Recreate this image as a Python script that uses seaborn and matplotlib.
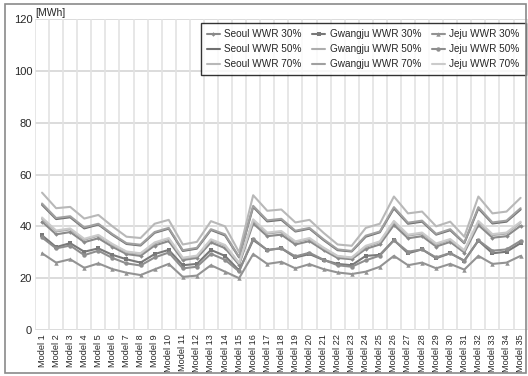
import matplotlib
matplotlib.use("Agg")
import matplotlib.pyplot as plt
import seaborn as sns
import pandas as pd
from matplotlib.patches import Rectangle

sns.set_theme(style="white")
plt.rcParams["font.family"] = ["Liberation Sans", "DejaVu Sans"]

models = [f"Model {i}" for i in range(1, 36)]

seoul_30 = [41.8, 36.9, 37.8, 33.9, 35.4, 32.1, 29.3, 28.6, 32.6, 34.3,
            27.0, 27.8, 33.8, 31.6, 25.2, 41.1, 36.2, 36.8, 33.0, 34.3,
            30.8, 27.8, 27.3, 31.3, 33.0, 40.5, 35.4, 36.2, 32.2, 34.0,
            29.9, 40.5, 35.6, 36.2, 40.2]
seoul_50 = [48.3, 42.8, 43.5, 39.2, 40.7, 36.7, 33.2, 32.6, 37.5, 39.1,
            30.5, 31.4, 38.6, 36.5, 28.0, 47.5, 41.9, 42.5, 38.0, 39.1,
            34.7, 30.8, 30.3, 36.0, 37.7, 46.9, 41.0, 41.8, 36.8, 38.5,
            33.5, 46.9, 41.1, 41.8, 46.5]
seoul_70 = [53.0, 47.0, 47.5, 43.0, 44.4, 40.0, 36.0, 35.5, 41.0, 42.5,
            33.0, 34.0, 42.0, 40.0, 30.0, 52.0, 46.0, 46.5, 41.5, 42.5,
            37.5, 33.0, 32.5, 39.4, 41.0, 51.5, 45.0, 45.7, 40.0, 41.8,
            36.0, 51.5, 45.0, 45.7, 51.0]
gwangju_30 = [36.5, 32.0, 33.5, 30.2, 31.5, 29.0, 27.3, 26.0, 29.3, 30.9,
              25.0, 25.5, 30.9, 28.6, 23.0, 34.7, 30.9, 31.5, 28.0, 29.3,
              27.0, 25.5, 25.0, 28.6, 29.0, 34.7, 29.6, 31.1, 27.7, 29.6,
              26.8, 34.5, 29.6, 30.2, 33.5]
gwangju_50 = [42.9, 38.0, 38.8, 34.8, 36.4, 32.9, 30.0, 29.4, 33.4, 35.2,
              27.6, 28.4, 34.7, 32.5, 25.7, 42.2, 37.2, 37.8, 33.9, 35.1,
              31.5, 28.4, 27.8, 32.1, 33.9, 41.7, 36.4, 37.2, 33.0, 34.8,
              30.5, 41.7, 36.6, 37.2, 41.4]
gwangju_70 = [48.8, 43.2, 43.9, 39.6, 41.0, 37.0, 33.5, 32.9, 37.8, 39.4,
              30.8, 31.7, 38.9, 36.9, 28.2, 47.9, 42.3, 42.9, 38.3, 39.4,
              35.0, 31.1, 30.5, 36.4, 38.0, 47.4, 41.4, 42.2, 37.1, 38.9,
              33.7, 47.4, 41.5, 42.2, 47.0]
jeju_30 = [29.6, 26.0, 27.3, 24.0, 25.7, 23.5, 22.1, 21.2, 23.4, 25.5,
           20.5, 21.0, 25.0, 22.5, 20.0, 29.3, 25.5, 26.3, 23.8, 25.4,
           23.5, 22.2, 21.6, 22.5, 24.4, 28.6, 25.0, 26.0, 23.8, 25.5,
           23.3, 28.6, 25.5, 26.0, 28.6]
jeju_50 = [35.7, 31.5, 32.6, 28.9, 30.6, 27.8, 25.7, 24.9, 28.0, 29.9,
           23.8, 24.4, 29.4, 27.1, 22.6, 35.2, 30.8, 31.6, 28.4, 29.8,
           27.1, 25.0, 24.4, 26.9, 28.7, 34.6, 30.2, 31.1, 28.0, 29.7,
           26.6, 34.6, 30.6, 31.1, 34.4]
jeju_70 = [43.4, 38.4, 39.2, 35.2, 36.7, 33.2, 30.3, 29.6, 33.8, 35.5,
           27.9, 28.7, 35.0, 32.8, 25.9, 42.7, 37.6, 38.2, 34.2, 35.5,
           31.8, 28.6, 28.0, 32.5, 34.2, 42.1, 36.8, 37.6, 33.4, 35.1,
           30.8, 42.1, 37.0, 37.6, 41.8]

series = {
    "Seoul WWR 30%": seoul_30,
    "Seoul WWR 50%": seoul_50,
    "Seoul WWR 70%": seoul_70,
    "Gwangju WWR 30%": gwangju_30,
    "Gwangju WWR 50%": gwangju_50,
    "Gwangju WWR 70%": gwangju_70,
    "Jeju WWR 30%": jeju_30,
    "Jeju WWR 50%": jeju_50,
    "Jeju WWR 70%": jeju_70,
}

# line colour, marker, marker size
styles = {
    "Seoul WWR 30%": ("#8a8a8a", "D", 2.3),
    "Seoul WWR 50%": ("#707070", None, 0),
    "Seoul WWR 70%": ("#b8b8b8", None, 0),
    "Gwangju WWR 30%": ("#787878", "s", 3.5),
    "Gwangju WWR 50%": ("#adadad", None, 0),
    "Gwangju WWR 70%": ("#a0a0a0", None, 0),
    "Jeju WWR 30%": ("#939393", "^", 3.2),
    "Jeju WWR 50%": ("#8e8e8e", "o", 3.2),
    "Jeju WWR 70%": ("#cbcbcb", None, 0),
}

df = pd.DataFrame({"model": models, **series})
df["x"] = range(len(models))

fig = plt.figure(figsize=(5.28, 3.76), dpi=100)
ax = fig.add_axes([0.0663, 0.1223, 0.933, 0.8272])

for name in series:
    color, marker, ms = styles[name]
    sns.lineplot(data=df, x="x", y=name, ax=ax, color=color, lw=1.5,
                 marker=marker if marker else None, markersize=ms,
                 markeredgewidth=0, label=name)

ax.set_xlim(-0.5, len(models) - 0.5)
ax.set_ylim(0, 120)
ax.set_yticks(range(0, 121, 20))
ax.set_xticks(range(len(models)))
ax.set_xticklabels(models, rotation=90, fontsize=6.6)
ax.tick_params(axis="y", labelsize=8, pad=2, length=0)
ax.tick_params(axis="x", pad=3, length=0)
ax.set_xlabel("")
ax.set_ylabel("")

# grid: horizontal at y ticks, vertical at category boundaries
for y in range(0, 121, 20):
    ax.axhline(y, color="#d6d6d6", lw=1.2, zorder=0)
for b in range(len(models) + 1):
    ax.axvline(b - 0.5, color="#e3e3e3", lw=1.2, zorder=0)
for s in ax.spines.values():
    s.set_visible(False)

ax.text(0.0, 1.003, "[MWh]", transform=ax.transAxes, fontsize=7.5,
        ha="left", va="bottom")

leg = ax.legend(ncol=3, loc="upper right", bbox_to_anchor=(0.996, 0.986),
                fontsize=7.2, frameon=True, handlelength=1.3,
                handletextpad=0.45, columnspacing=1.05, labelspacing=0.5,
                borderpad=0.6, borderaxespad=0.0, fancybox=False)
leg.get_frame().set_edgecolor("black")
leg.get_frame().set_linewidth(1.0)

# outer border around the whole figure
fig.patches.append(Rectangle((5 / 528, 3 / 376), 521 / 528, 369 / 376,
                             transform=fig.transFigure, fill=False,
                             edgecolor="#8a8a8a", lw=1.2))

fig.savefig("out.png", dpi=100)
